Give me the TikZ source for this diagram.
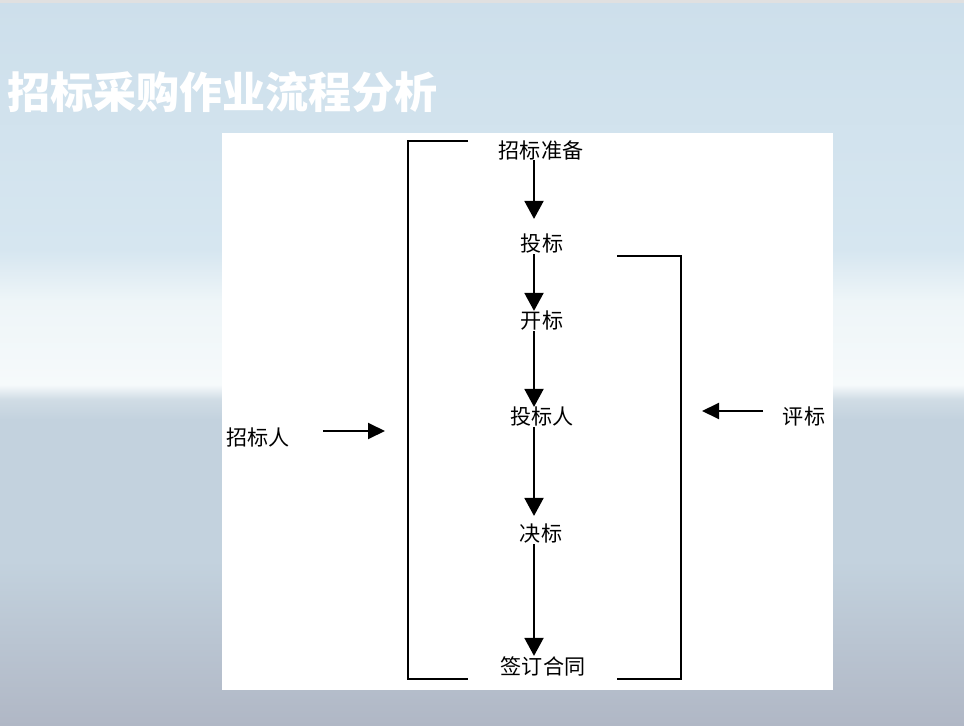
\documentclass[tikz,border=0pt]{standalone}
\usepackage{fontspec}
\newfontfamily\cjk{Noto Sans CJK SC}
\usepackage{tikz}
\usetikzlibrary{arrows.meta,positioning}

\definecolor{skytop}{HTML}{CDDFEB}
\definecolor{skyhigh}{HTML}{D6E6F0}
\definecolor{skycloud}{HTML}{EEF5F8}
\definecolor{skywhite}{HTML}{F6FAFB}
\definecolor{skyedge}{HTML}{D0DCE5}
\definecolor{skylow}{HTML}{C3D2DE}
\definecolor{skybottom}{HTML}{B0B7C5}

% sky behind the slide (path box = 25bp..75bp)
\pgfdeclareverticalshading{sky}{100bp}{%
  color(0bp)=(skybottom); color(25bp)=(skybottom);
  color(36.4bp)=(skylow); color(46.1bp)=(skylow);
  color(47.5bp)=(skyedge); color(48.5bp)=(skywhite);
  color(54.3bp)=(skycloud); color(57.8bp)=(skyhigh);
  color(75bp)=(skytop); color(100bp)=(skytop)}

\begin{document}
\begin{tikzpicture}[x=0.02cm, y=-0.02cm]
    % Styles
    \tikzset{
        flowtext/.style={inner sep=0pt, font=\cjk\fontsize{12}{14}\selectfont},
        flow/.style={line width=1.1pt, -{Triangle[width=0.38cm, length=0.36cm]}},
        side/.style={line width=1.1pt, -{Triangle[width=0.32cm, length=0.34cm]}},
        bracket/.style={line width=1.1pt},
        headline/.style={anchor=west, inner sep=0pt, text=white, font=\cjk\bfseries\fontsize{24.5}{29}\selectfont}
    }

    % --- BACKGROUND ---
    \shade[shading=sky] (0,0) rectangle (964,726);
    \fill[black!12] (0,0) rectangle (964,3);
    \useasboundingbox (0,0) rectangle (964,726);
    \fill[white] (222,133) rectangle (833,690);

    % --- TITLE ---
    \node[headline] (title) at (7,92) {招标采购作业流程分析};

    % --- DRAW NODES ---
    \node[flowtext] (prep)   at (541,150) {招标准备};
    \node[flowtext] (bid)    at (542,244) {投标};
    \node[flowtext] (open)   at (542,321) {开标};
    \node[flowtext] (bidder) at (542,417) {投标人};
    \node[flowtext] (award)  at (541,534) {决标};
    \node[flowtext] (sign)   at (543,666) {签订合同};
    \node[flowtext] (tenderer) at (258,437) {招标人};
    \node[flowtext] (evaluate) at (804,416) {评标};

    % main line runs at x = 534
    \coordinate (axis) at (534,0);

    % --- FLOW CONNECTIONS ---
    \draw[flow, shorten >=0.3cm] (prep.south -| axis) -- (bid.north -| axis);
    \draw[flow] (bid.south -| axis) -- (open.north -| axis);
    \draw[flow] (open.south -| axis) -- (bidder.north -| axis);
    \draw[flow, shorten >=0.16cm] (bidder.south -| axis) -- (award.north -| axis);
    \draw[flow] (award.south -| axis) -- (sign.north -| axis);

    % --- BRACKETS ---
    \draw[bracket] (468,141) -| (408,679) -- (468,679);
    \draw[bracket] (617,256) -| (681,679) -- (617,679);

    % --- SIDE ARROWS ---
    \coordinate (ltail) at (323,431);
    \coordinate (lhead) at (385,431);
    \coordinate (rtail) at (763,411);
    \coordinate (rhead) at (702,411);
    \draw[side] (ltail) -- (lhead);
    \draw[side] (rtail) -- (rhead);

\end{tikzpicture}
\end{document}
